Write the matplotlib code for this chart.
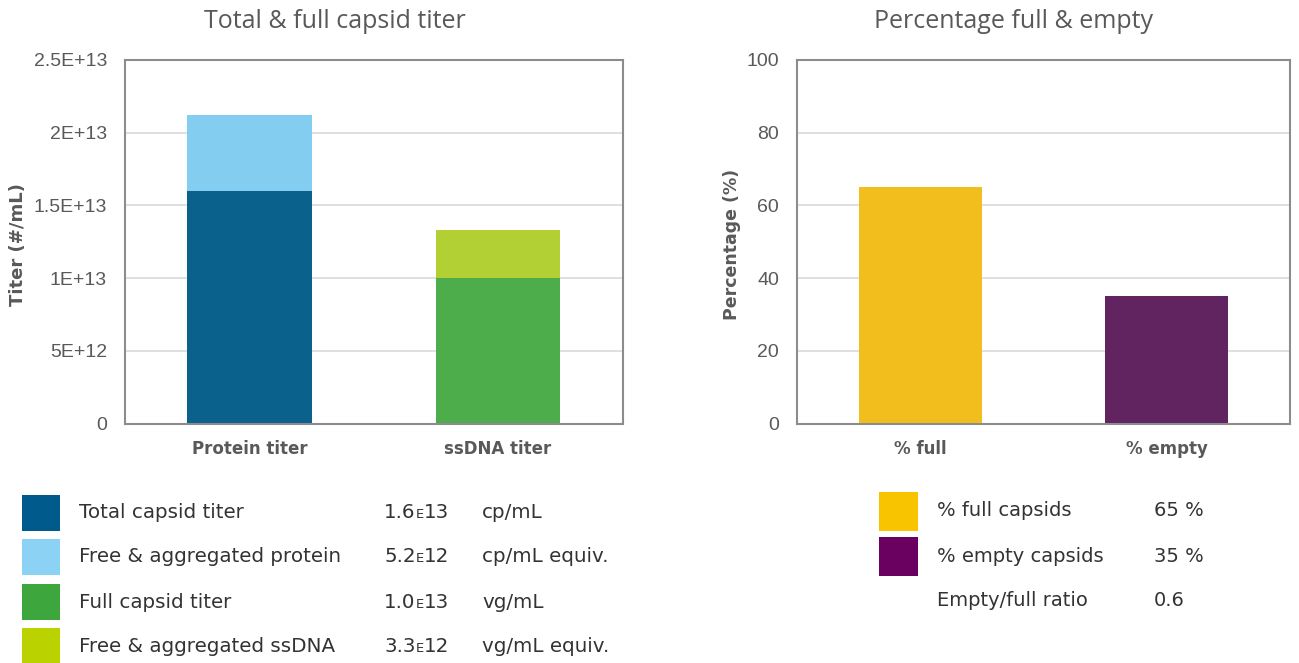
import matplotlib
matplotlib.use("Agg")
import matplotlib.pyplot as plt
from matplotlib.patches import Rectangle
from matplotlib.offsetbox import TextArea, HPacker, AnchoredOffsetbox

# ---------------- data ----------------
titer_categories = ["Protein titer", "ssDNA titer"]
titer_base = [1.6e13, 1.0e13]          # total capsid / full capsid
titer_top = [5.2e12, 3.3e12]           # free & aggregated protein / ssDNA
titer_ticks = [0, 5e12, 1e13, 1.5e13, 2e13, 2.5e13]
titer_ticklabels = ["0", "5E+12", "1E+13", "1.5E+13", "2E+13", "2.5E+13"]

pct_categories = ["% full", "% empty"]
pct_values = [65, 35]
pct_ticks = [0, 20, 40, 60, 80, 100]

left_legend_labels = ["Total capsid titer", "Free & aggregated protein",
                      "Full capsid titer", "Free & aggregated ssDNA"]
left_legend_mant = ["1.6", "5.2", "1.0", "3.3"]
left_legend_exp = ["13", "12", "13", "12"]
left_legend_units = ["cp/mL", "cp/mL equiv.", "vg/mL", "vg/mL equiv."]

right_legend_labels = ["% full capsids", "% empty capsids", "Empty/full ratio"]
right_legend_values = ["65 %", "35 %", "0.6"]

# ---------------- styles ----------------
bar_dark_blue = "#0A628C"
bar_light_blue = "#82CDF0"
bar_green = "#4CAD4A"
bar_lime = "#B2D034"
bar_yellow = "#F2BE1E"
bar_purple = "#622460"
leg_colors_left = ["#005A8B", "#8CD2F5", "#3DA73D", "#BAD300"]
leg_colors_right = ["#F8C400", "#6A0060", None]

axis_gray = "#595959"
spine_gray = "#8C8C8C"
grid_gray = "#D9D9D9"
tick_font = "Liberation Sans"
bold_font = "DejaVu Sans"
legend_font = "DejaVu Sans"

W, H = 1299, 663
fig = plt.figure(figsize=(W / 100, H / 100), dpi=100)


def fx(px):
    return px / W


def fy(py):
    return 1 - py / H


def style_axes(ax):
    for s in ax.spines.values():
        s.set_color(spine_gray)
        s.set_linewidth(1.5)
    ax.grid(axis="y", color=grid_gray, linewidth=1.2)
    ax.set_axisbelow(True)
    ax.tick_params(axis="both", length=0)
    ax.tick_params(axis="y", pad=13, labelsize=14, labelcolor=axis_gray)
    ax.tick_params(axis="x", pad=12, labelsize=12, labelcolor=axis_gray)
    for lab in ax.get_yticklabels():
        lab.set_fontfamily(tick_font)
    for lab in ax.get_xticklabels():
        lab.set_fontfamily(bold_font)
        lab.set_fontweight("bold")


# ---------------- left chart ----------------
axL = fig.add_axes([fx(125), fy(423.5), fx(622.5 - 125), (423.5 - 60) / H])
xL = list(range(len(titer_categories)))
axL.bar(xL, titer_base, width=0.5, color=[bar_dark_blue, bar_green], zorder=2)
axL.bar(xL, titer_top, width=0.5, bottom=titer_base,
        color=[bar_light_blue, bar_lime], zorder=2)
axL.set_xlim(-0.5, 1.5)
axL.set_ylim(0, 2.5e13)
axL.set_yticks(titer_ticks)
axL.set_yticklabels(titer_ticklabels)
axL.set_xticks(xL)
axL.set_xticklabels(titer_categories)
style_axes(axL)

# ---------------- right chart ----------------
axR = fig.add_axes([fx(797), fy(423.5), fx(1290 - 797), (423.5 - 60) / H])
xR = list(range(len(pct_categories)))
axR.bar(xR, pct_values, width=0.5, color=[bar_yellow, bar_purple], zorder=2)
axR.set_xlim(-0.5, 1.5)
axR.set_ylim(0, 100)
axR.set_yticks(pct_ticks)
axR.set_xticks(xR)
axR.set_xticklabels(pct_categories)
style_axes(axR)

# ---------------- titles & axis labels ----------------
fig.text(fx(335), fy(22), "Total & full capsid titer", ha="center", va="center",
         fontsize=18, color=axis_gray, family="Open Sans")
fig.text(fx(1014), fy(22), "Percentage full & empty", ha="center", va="center",
         fontsize=18, color=axis_gray, family="Open Sans")
fig.text(fx(18), fy(245), "Titer (#/mL)", ha="center", va="center", rotation=90,
         fontsize=13, fontweight="bold", color=axis_gray, family=bold_font)
fig.text(fx(732), fy(244), "Percentage (%)", ha="center", va="center", rotation=90,
         fontsize=12.5, fontweight="bold", color=axis_gray, family=bold_font)

# ---------------- left legend table ----------------
text_color = "#333333"
leg_fs = 14.3
left_rows_y = [513, 557, 602, 646]
for i, lab in enumerate(left_legend_labels):
    yc = left_rows_y[i]
    fig.patches.append(Rectangle((fx(22), fy(yc + 18)), fx(38), 36 / H,
                                 transform=fig.transFigure,
                                 facecolor=leg_colors_left[i], edgecolor="none"))
    fig.text(fx(79), fy(yc), lab, ha="left", va="center", fontsize=leg_fs,
             color=text_color, family=legend_font)
    parts = HPacker(children=[
        TextArea(left_legend_mant[i], textprops=dict(size=leg_fs, color=text_color, family=legend_font)),
        TextArea("E", textprops=dict(size=leg_fs * 0.66, color=text_color, family=legend_font)),
        TextArea(left_legend_exp[i], textprops=dict(size=leg_fs, color=text_color, family=legend_font)),
    ], align="baseline", pad=0, sep=0)
    ab = AnchoredOffsetbox(loc="center left", child=parts, pad=0, borderpad=0,
                           frameon=False, bbox_to_anchor=(fx(384), fy(yc)),
                           bbox_transform=fig.transFigure)
    fig.add_artist(ab)
    fig.text(fx(482), fy(yc), left_legend_units[i], ha="left", va="center",
             fontsize=leg_fs, color=text_color, family=legend_font)

# ---------------- right legend table ----------------
right_rows_y = [511, 556, 601]
for i, lab in enumerate(right_legend_labels):
    yc = right_rows_y[i]
    if leg_colors_right[i] is not None:
        fig.patches.append(Rectangle((fx(879), fy(yc + 19.5)), fx(39), 39 / H,
                                     transform=fig.transFigure,
                                     facecolor=leg_colors_right[i], edgecolor="none"))
    fig.text(fx(937), fy(yc), lab, ha="left", va="center", fontsize=14,
             color=text_color, family=legend_font)
    fig.text(fx(1154), fy(yc), right_legend_values[i], ha="left", va="center",
             fontsize=14, color=text_color, family=legend_font)

fig.savefig("out.png", dpi=100, facecolor="white")
